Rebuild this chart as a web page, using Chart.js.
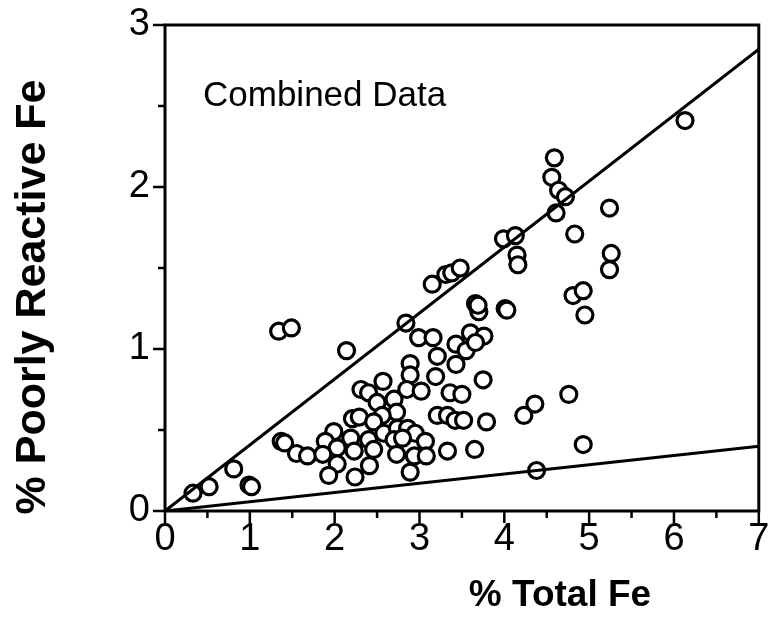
<!DOCTYPE html>
<html><head><meta charset="utf-8">
<script src="https://cdn.jsdelivr.net/npm/chart.js@4.4.1/dist/chart.umd.min.js"></script>
<style>html,body{margin:0;padding:0;background:#fff}</style>
</head><body>
<canvas id="c" width="770" height="618"></canvas>
<script>
// ---- data ----
const totalFe = [0.33,0.52,0.81,0.99,1.02,1.34,1.49,1.37,1.41,1.55,
  1.68,2.14,2.31,2.40,2.21,2.29,1.99,1.89,2.03,2.19,
  2.23,2.03,1.86,1.93,2.24,2.57,2.50,2.70,2.73,2.56,
  2.46,2.40,2.58,2.74,2.86,2.95,3.07,2.70,2.80,2.41,
  2.46,2.73,2.94,3.08,3.33,3.65,2.89,2.84,2.99,3.16,
  3.21,3.43,3.60,3.76,3.55,3.66,3.43,3.66,3.70,3.69,
  4.01,4.03,3.75,2.89,2.89,3.19,2.85,3.02,3.36,3.50,
  3.21,3.33,3.42,3.52,3.79,3.15,3.31,3.38,3.48,3.99,
  4.13,4.15,4.16,4.83,4.81,4.93,4.95,6.13,4.59,4.56,
  4.64,4.72,4.61,5.24,5.26,5.24,4.76,4.36,4.23,4.93,
  4.38];
const poorlyReactiveFe = [0.11,0.15,0.26,0.16,0.15,1.11,1.13,0.43,0.42,0.355,
  0.34,0.99,0.75,0.73,0.57,0.58,0.49,0.43,0.39,0.45,
  0.37,0.29,0.35,0.22,0.21,0.80,0.67,0.69,0.61,0.59,
  0.55,0.44,0.48,0.51,0.51,0.48,0.43,0.44,0.45,0.28,
  0.38,0.35,0.34,0.34,0.37,0.38,0.24,1.16,1.07,1.07,
  0.955,1.03,1.10,1.08,0.99,1.04,0.905,1.28,1.23,1.27,
  1.25,1.24,0.81,0.91,0.84,0.83,0.75,0.74,0.73,0.72,
  0.59,0.59,0.56,0.56,0.55,1.40,1.46,1.47,1.50,1.68,
  1.70,1.58,1.52,1.71,1.33,1.36,1.21,2.41,2.18,2.06,
  1.98,1.94,1.84,1.87,1.59,1.49,0.72,0.66,0.59,0.41,
  0.25];
const upperLineX = [0, 7];
const upperLineY = [0, 2.85];
const lowerLineX = [0, 7];
const lowerLineY = [0, 0.40];
const xTickValues = [0,1,2,3,4,5,6,7];
const yTickValues = [0,1,2,3];
const panelLabel = 'Combined Data';
const xTitle = '% Total Fe';
const yTitle = '% Poorly Reactive Fe';

// ---- build ----
const pts = totalFe.map((x,i)=>({x:x, y:poorlyReactiveFe[i]}));
const upper = upperLineX.map((x,i)=>({x:x, y:upperLineY[i]}));
const lower = lowerLineX.map((x,i)=>({x:x, y:lowerLineY[i]}));

const FONT = "'Liberation Sans', Arial, Helvetica, sans-serif";

const decor = {
  id: 'decor',
  afterDraw(chart) {
    const ctx = chart.ctx;
    const a = chart.chartArea;
    const xs = chart.scales.x, ys = chart.scales.y;
    ctx.save();
    ctx.strokeStyle = '#000';
    ctx.lineWidth = 3;
    ctx.strokeRect(a.left, a.top, a.right - a.left, a.bottom - a.top);
    ctx.lineWidth = 2.5;
    ctx.beginPath();
    for (let v = xs.min; v <= xs.max + 1e-9; v += 0.5) {
      const p = xs.getPixelForValue(v);
      const len = Math.abs(v - Math.round(v)) < 1e-6 ? 12 : 7;
      ctx.moveTo(p, a.bottom); ctx.lineTo(p, a.bottom + len);
    }
    for (let v = ys.min; v <= ys.max + 1e-9; v += 0.5) {
      const p = ys.getPixelForValue(v);
      const len = Math.abs(v - Math.round(v)) < 1e-6 ? 12 : 7;
      ctx.moveTo(a.left, p); ctx.lineTo(a.left - len, p);
    }
    ctx.stroke();
    ctx.fillStyle = '#000';
    // panel label
    ctx.font = '35px ' + FONT;
    ctx.textAlign = 'left';
    ctx.textBaseline = 'alphabetic';
    ctx.fillText(panelLabel, 203, 106);
    // x title
    ctx.font = 'bold 37px ' + FONT;
    ctx.textAlign = 'center';
    ctx.fillText(xTitle, 560, 606);
    // y title
    ctx.save();
    ctx.translate(45, 297);
    ctx.rotate(-Math.PI / 2);
    ctx.font = 'bold 43px ' + FONT;
    ctx.textAlign = 'center';
    ctx.fillText(yTitle, 0, 0);
    ctx.restore();
    ctx.restore();
  }
};

new Chart(document.getElementById('c'), {
  type: 'scatter',
  data: {
    datasets: [
      { type: 'line', data: upper, borderColor: '#000', borderWidth: 3, pointRadius: 0, fill: false, showLine: true },
      { type: 'line', data: lower, borderColor: '#000', borderWidth: 3, pointRadius: 0, fill: false, showLine: true },
      { data: pts, pointRadius: 8, pointBorderWidth: 3.2, borderColor: '#000', backgroundColor: '#fff', pointStyle: 'circle' }
    ]
  },
  options: {
    responsive: false,
    animation: false,
    devicePixelRatio: 1,
    layout: { padding: { top: 25, right: 5, left: 0, bottom: 0 } },
    plugins: { legend: { display: false }, tooltip: { enabled: false } },
    scales: {
      x: {
        type: 'linear', min: 0, max: 7,
        afterBuildTicks(s) { s.ticks = xTickValues.map(v => ({ value: v })); },
        afterFit(s) { s.height = 107; s.paddingLeft = 0; s.paddingRight = 0; },
        ticks: { color: '#000', font: { family: FONT, size: 38 }, padding: 1, maxRotation: 0 },
        grid: { display: true, drawOnChartArea: false, drawTicks: true, tickLength: 5, color: 'rgba(0,0,0,0)' },
        border: { display: false }
      },
      y: {
        type: 'linear', min: 0, max: 3,
        afterBuildTicks(s) { s.ticks = yTickValues.map(v => ({ value: v })); },
        afterFit(s) { s.width = 165; s.paddingTop = 0; s.paddingBottom = 0; },
        ticks: { color: '#000', font: { family: FONT, size: 38 }, padding: 10 },
        grid: { display: true, drawOnChartArea: false, drawTicks: true, tickLength: 5, color: 'rgba(0,0,0,0)' },
        border: { display: false }
      }
    }
  },
  plugins: [decor]
});
</script>
</body></html>
